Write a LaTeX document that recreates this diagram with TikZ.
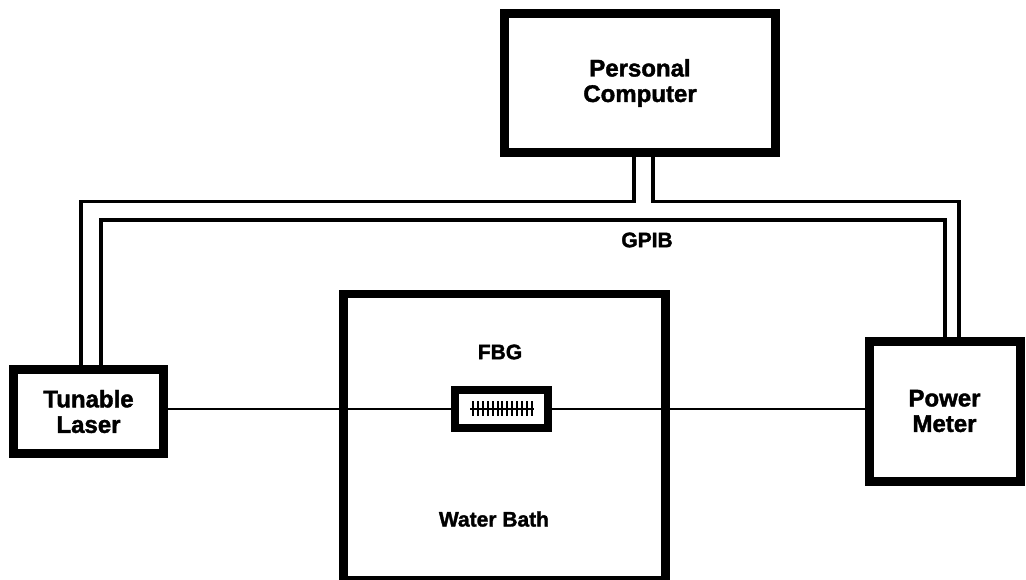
\documentclass[tikz,border=0pt]{standalone}
\usepackage{fontspec}
\setmainfont{Liberation Sans}[BoldFeatures={FakeBold=1.6}]
\begin{document}
\begin{tikzpicture}[x=1pt,y=-1pt,
  box/.style={draw=black,line width=9pt,fill=white,inner sep=0pt,align=center,
    font=\fontsize{24}{25.5}\selectfont\bfseries},
  lbl/.style={inner sep=0pt,font=\fontsize{21}{23}\selectfont\bfseries},
  bus/.style={line width=3.5pt,line join=miter},
  fiber/.style={line width=2.5pt}]
\useasboundingbox (0,0) rectangle (1026,579);
% boxes
\node[box,minimum width=271pt,minimum height=139pt] (pc) at (640,83) {Personal\\Computer};
\node[box,minimum width=150pt,minimum height=84pt] (laser) at (88.5,411.5) {Tunable\\Laser};
\node[box,minimum width=151pt,minimum height=140pt] (pm) at (944.5,411) {Power\\Meter};
\node[draw=black,line width=8.5pt,inner sep=0pt,minimum width=322pt,minimum height=286pt] (bath) at (504.5,437) {};
% FBG
\node[draw=black,line width=8pt,fill=white,inner sep=0pt,minimum width=93pt,minimum height=38pt] (fbg) at (501.5,409) {};
% fiber
\draw[fiber] (laser.east |- fbg.center) -- (fbg.west);
\draw[fiber] (fbg.east) -- (pm.west |- fbg.center);
\coordinate (ga) at (470,409);
\coordinate (gb) at (534,409);
\draw[fiber] (ga) -- (gb);
\foreach \i in {0,...,12} {
  \draw[line width=2pt] (473+\i*4.9,401) -- (473+\i*4.9,416);
}
% labels
\node[lbl] (fbglbl) at (500,352) {FBG};
\node[lbl] (wblbl) at (494,519) {Water Bath};
\node[lbl] (gpib) at (647,240) {GPIB};
% GPIB bus
\draw[bus] (laser.north -| 81,0) -- (81,201.5) -- (634,201.5) -- (pc.south -| 634,0);
\draw[bus] (pc.south -| 653,0) -- (653,201.5) -- (959,201.5) -- (pm.north -| 959,0);
\draw[bus] (laser.north -| 101,0) -- (101,220) -- (945,220) -- (pm.north -| 945,0);
\end{tikzpicture}
\end{document}
